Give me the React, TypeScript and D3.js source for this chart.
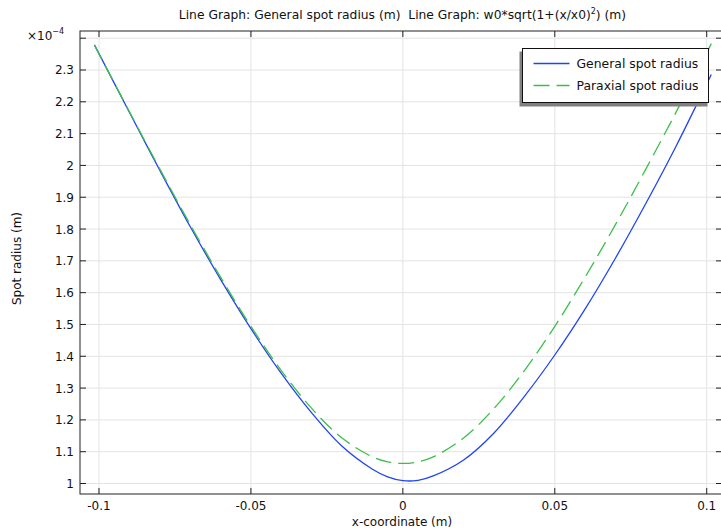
import React from "react";
import * as d3 from "d3";

const xValues = [-0.1015, -0.09, -0.08, -0.07, -0.06, -0.05, -0.04, -0.03, -0.02, -0.01, -0.005, 0, 0.005, 0.01, 0.02, 0.03, 0.04, 0.05, 0.06, 0.07, 0.08, 0.09, 0.1, 0.1015];
const generalSpot = [2.379, 2.167, 1.985, 1.808, 1.642, 1.487, 1.346, 1.222, 1.117, 1.045, 1.021, 1.009, 1.010, 1.024, 1.074, 1.159, 1.274, 1.404, 1.549, 1.709, 1.881, 2.062, 2.256, 2.286];
const paraxialSpot = [2.378, 2.169, 1.989, 1.8145, 1.649, 1.494, 1.355, 1.236, 1.143, 1.0836, 1.068, 1.063, 1.068, 1.0836, 1.143, 1.236, 1.355, 1.494, 1.649, 1.8145, 1.989, 2.169, 2.354, 2.383];
const xTicks = [-0.1, -0.05, 0, 0.05, 0.1];
const xTickLabels = ["-0.1", "-0.05", "0", "0.05", "0.1"];
const yTicks = [1, 1.1, 1.2, 1.3, 1.4, 1.5, 1.6, 1.7, 1.8, 1.9, 2, 2.1, 2.2, 2.3, 2.4];
const yTickLabels = ["1", "1.1", "1.2", "1.3", "1.4", "1.5", "1.6", "1.7", "1.8", "1.9", "2", "2.1", "2.2", "2.3", ""];
const seriesNames = ["General spot radius", "Paraxial spot radius"];

const W = 721, H = 530;
const L = 80, R = 721, T = 31, B = 494;
const FONT = "'DejaVu Sans', sans-serif";
const BLUE = "#2244f2";
const GREEN = "#3cbf4a";

export default function App() {
  const x = d3.scaleLinear().domain([-0.10625, 0.1047]).range([L, R]);
  const y = d3.scaleLinear().domain([0.967, 2.4226]).range([B, T]);
  const line = d3
    .line<number>()
    .x((_, i) => x(xValues[i]))
    .y((d) => y(d))
    .curve(d3.curveCatmullRom.alpha(0.5));

  const lx = 522.5, ly = 48.5, lw = 186, lh = 54;

  return (
    <svg width={W} height={H} style={{ position: "absolute", left: 0, top: 0, background: "#fff" }} fontFamily={FONT}>
      <rect x={0} y={0} width={W} height={H} fill="#fff" />
      <defs>
        <clipPath id="plot">
          <rect x={L} y={T} width={R - L} height={B - T} />
        </clipPath>
      </defs>
      {/* grid */}
      {xTicks.map((t) => (
        <line key={"gx" + t} x1={x(t)} x2={x(t)} y1={T} y2={B} stroke="#e3e3e3" strokeWidth={1} />
      ))}
      {yTicks.map((t) => (
        <line key={"gy" + t} x1={L} x2={R} y1={y(t)} y2={y(t)} stroke="#e3e3e3" strokeWidth={1} />
      ))}
      {/* lines */}
      <g clipPath="url(#plot)">
        <path d={line(generalSpot) || ""} fill="none" stroke={BLUE} strokeWidth={1.3} />
        <path d={line(paraxialSpot) || ""} fill="none" stroke={GREEN} strokeWidth={1.3} strokeDasharray="16,7" />
      </g>
      {/* frame */}
      <rect x={L} y={T} width={R - L + 2} height={B - T} fill="none" stroke="#222" strokeWidth={1} />
      {/* ticks */}
      {xTicks.map((t) => (
        <g key={"tx" + t}>
          <line x1={x(t)} x2={x(t)} y1={B} y2={B - 6} stroke="#222" />
          <line x1={x(t)} x2={x(t)} y1={T} y2={T + 6} stroke="#222" />
        </g>
      ))}
      {yTicks.map((t) => (
        <g key={"ty" + t}>
          <line x1={L} x2={L + 6} y1={y(t)} y2={y(t)} stroke="#222" />
          <line x1={R} x2={R - 5} y1={y(t)} y2={y(t)} stroke="#222" />
        </g>
      ))}
      {/* tick labels */}
      {xTicks.map((t, i) => (
        <text key={"lx" + t} x={x(t)} y={B + 16} textAnchor="middle" fontSize={12} fill="#111">
          {xTickLabels[i]}
        </text>
      ))}
      {yTicks.map((t, i) => (
        <text key={"ly" + t} x={L - 6} y={y(t) + 4.5} textAnchor="end" fontSize={12} fill="#111">
          {yTickLabels[i]}
        </text>
      ))}
      {/* exponent */}
      <text x={27} y={40} fontSize={12} fill="#111">
        ×10
        <tspan fontSize={8} dy={-6}>−4</tspan>
      </text>
      {/* title */}
      <text x={402.5} y={19} textAnchor="middle" fontSize={12.3} fill="#111">
        {"Line Graph: General spot radius (m)\u00A0 Line Graph: w0*sqrt(1+(x/x0)"}
        <tspan fontSize={8} dy={-5}>2</tspan>
        <tspan dy={5}>) (m)</tspan>
      </text>
      {/* axis titles */}
      <text x={(L + 720) / 2 + 2} y={526} textAnchor="middle" fontSize={12} fill="#111">
        x-coordinate (m)
      </text>
      <text transform={`translate(21, ${(T + B) / 2 - 4}) rotate(-90)`} textAnchor="middle" fontSize={12} fill="#111">
        Spot radius (m)
      </text>
      {/* legend */}
      <rect x={lx - 3} y={ly + 3} width={lw + 2} height={lh + 1} fill="#808080" />
      <rect x={lx} y={ly} width={lw} height={lh} fill="#fff" stroke="#111" strokeWidth={1} />
      <line x1={lx + 11} x2={lx + 47} y1={ly + 15} y2={ly + 15} stroke={BLUE} strokeWidth={1.3} />
      <line x1={lx + 11} x2={lx + 47} y1={ly + 37} y2={ly + 37} stroke={GREEN} strokeWidth={1.3} strokeDasharray="16,7" />
      <text x={lx + 54} y={ly + 19.5} fontSize={12.4} fill="#111">{seriesNames[0]}</text>
      <text x={lx + 54} y={ly + 41.5} fontSize={12.4} fill="#111">{seriesNames[1]}</text>
    </svg>
  );
}
